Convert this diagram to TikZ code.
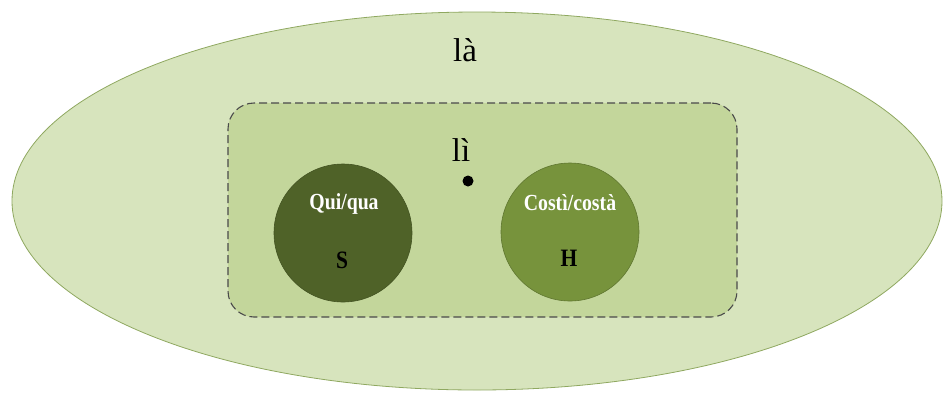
\documentclass[tikz,border=0pt]{standalone}
\usepackage{fontspec}
\setmainfont{Liberation Serif}
\newfontfamily\narrowbold[FakeStretch=0.86]{Liberation Serif Bold}
\usetikzlibrary{shapes.geometric}
\definecolor{outerfill}{HTML}{D7E4BD}
\definecolor{outerline}{HTML}{8FA860}
\definecolor{innerfill}{HTML}{C3D69B}
\definecolor{innerline}{HTML}{4A4A4A}
\definecolor{darkgreen}{HTML}{4F6228}
\definecolor{midgreen}{HTML}{77933C}
\tikzset{
  region/.style={ellipse, draw=outerline, line width=0.8pt, fill=outerfill,
    minimum width=930pt, minimum height=378pt, inner sep=0pt},
  zone/.style={rectangle, draw=innerline, line width=1.1pt, fill=innerfill,
    rounded corners=26pt, dash pattern=on 8pt off 4pt,
    minimum width=509pt, minimum height=214pt, inner sep=0pt},
  place/.style={circle, minimum size=138pt, inner sep=0pt, line width=0.6pt},
  bigword/.style={font=\fontsize{33}{36}\selectfont, text=black, inner sep=0pt},
  circleword/.style={font=\narrowbold\fontsize{23}{25}\selectfont, inner sep=0pt},
  letterword/.style={font=\narrowbold\fontsize{25}{27}\selectfont, text=black, inner sep=0pt},
}
\begin{document}
\begin{tikzpicture}[x=1pt,y=-1pt]
  \useasboundingbox (0,0) rectangle (946,392);
  % outer region and inner dashed zone
  \node[region] (la) at (477,201) {};
  \node[zone] (li) at (482.5,210) {};
  % the two discs
  \node[place, fill=darkgreen, draw=darkgreen!85!black] (qui) at (343,233) {};
  \node[place, fill=midgreen, draw=midgreen!80!black] (costi) at (570,232) {};
  % centre point
  \node[circle, fill=black, inner sep=0pt, minimum size=11pt] (centre) at (468,181) {};
  % labels
  \node[bigword] (lalabel) at (465,50) {là};
  \node[bigword] (lilabel) at (461,150) {lì};
  \node[circleword, text=white] (quilabel) at (344,204) {Qui/qua};
  \node[letterword] (slabel) at (342,260) {S};
  \node[circleword, text=white] (costilabel) at (570,203) {Costì/costà};
  \node[letterword] (hlabel) at (569,258) {H};
\end{tikzpicture}
\end{document}
